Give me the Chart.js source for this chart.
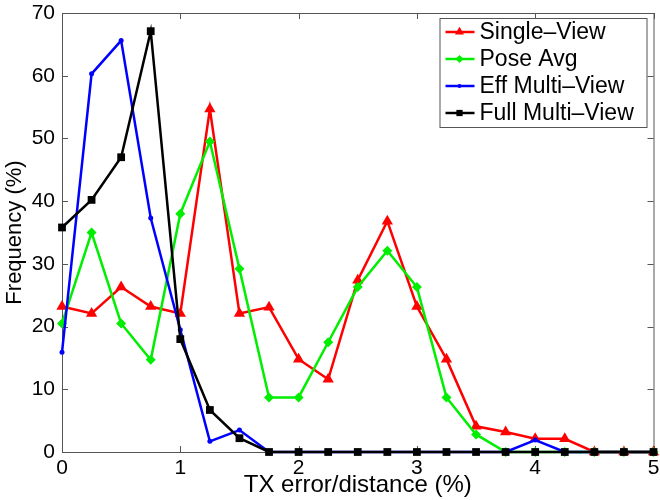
<!DOCTYPE html>
<html>
<head>
<meta charset="utf-8">
<script src="https://cdn.jsdelivr.net/npm/chart.js@4/dist/chart.umd.min.js"></script>
<style>
    html, body { margin: 0; padding: 0; background: #fff; }
    #wrap { width: 660px; height: 500px; }
</style>
</head>
<body>
<div id="wrap"><canvas id="errChart" width="660" height="500"></canvas></div>
<script>
// Data
const xValues = [0, 0.25, 0.5, 0.75, 1, 1.25, 1.5, 1.75, 2, 2.25, 2.5, 2.75, 3, 3.25, 3.5, 3.75, 4, 4.25, 4.5, 4.75, 5];
const singleView = [23.2, 22.1, 26.3, 23.2, 22.1, 54.7, 22.1, 23.1, 14.8, 11.6, 27.4, 36.8, 23.2, 14.8, 4.1, 3.2, 2.1, 2.1, 0, 0, 0];
const poseAvg = [20.5, 35.0, 20.5, 14.7, 38.0, 49.5, 29.2, 8.7, 8.7, 17.5, 26.3, 32.1, 26.3, 8.7, 2.8, 0, 0, 0, 0, 0, 0];
const effMultiView = [15.9, 60.3, 65.6, 37.3, 19.5, 1.7, 3.5, 0, 0, 0, 0, 0, 0, 0, 0, 0, 1.9, 0, 0, 0, 0];
const fullMultiView = [35.8, 40.2, 47.0, 67.1, 18.0, 6.7, 2.2, 0, 0, 0, 0, 0, 0, 0, 0, 0, 0, 0, 0, 0, 0];
const seriesLabels = ['Single\u2013View', 'Pose Avg', 'Eff Multi\u2013View', 'Full Multi\u2013View'];
const xTicks = [0, 1, 2, 3, 4, 5];
const yTicks = [0, 10, 20, 30, 40, 50, 60, 70];

const FONT = '"Liberation Sans", Arial, Helvetica, sans-serif';
const FRAME = '#555555';

function toPoints(values) {
    return values.map((v, i) => ({ x: xValues[i], y: v }));
}

// MATLAB-like frame with inward ticks on all four sides
const framePlugin = {
    id: 'frame',
    beforeDatasetsDraw(chart) {
        const { ctx, chartArea: a, scales } = chart;
        ctx.save();
        ctx.strokeStyle = FRAME;
        ctx.lineWidth = 1;
        ctx.strokeRect(a.left + 0.5, a.top + 0.5, a.right - a.left, a.bottom - a.top);
        const len = 6;
        ctx.beginPath();
        xTicks.forEach(t => {
            const px = Math.round(scales.x.getPixelForValue(t)) + 0.5;
            ctx.moveTo(px, a.bottom); ctx.lineTo(px, a.bottom - len);
            ctx.moveTo(px, a.top); ctx.lineTo(px, a.top + len);
        });
        yTicks.forEach(t => {
            const py = Math.round(scales.y.getPixelForValue(t)) + 0.5;
            ctx.moveTo(a.left, py); ctx.lineTo(a.left + len, py);
            ctx.moveTo(a.right, py); ctx.lineTo(a.right - len, py);
        });
        ctx.stroke();
        ctx.restore();
    }
};

function drawMarker(ctx, style, x, y, r, color) {
    ctx.fillStyle = color;
    ctx.beginPath();
    if (style === 'triangle') {
        ctx.moveTo(x, y - r);
        ctx.lineTo(x + r * 0.866, y + r * 0.5);
        ctx.lineTo(x - r * 0.866, y + r * 0.5);
    } else if (style === 'rectRot') {
        ctx.moveTo(x, y - r); ctx.lineTo(x + r, y); ctx.lineTo(x, y + r); ctx.lineTo(x - r, y);
    } else if (style === 'rect') {
        const s = r / Math.SQRT2;
        ctx.rect(x - s, y - s, 2 * s, 2 * s);
    } else {
        ctx.arc(x, y, r, 0, Math.PI * 2);
    }
    ctx.closePath();
    ctx.fill();
}

// Boxed legend inside the top right corner of the plot
const boxLegendPlugin = {
    id: 'boxLegend',
    afterDraw(chart) {
        const { ctx, chartArea: a } = chart;
        const w = 207, h = 109;
        const x0 = a.right - 7 - w, y0 = a.top + 5;
        ctx.save();
        ctx.fillStyle = '#fff';
        ctx.fillRect(x0, y0, w, h);
        ctx.strokeStyle = FRAME;
        ctx.lineWidth = 1;
        ctx.strokeRect(x0 + 0.5, y0 + 0.5, w, h);
        ctx.font = '23px ' + FONT;
        ctx.textBaseline = 'middle';
        chart.data.datasets.forEach((ds, i) => {
            const y = y0 + 14 + i * 27;
            ctx.strokeStyle = ds.borderColor;
            ctx.lineWidth = 2.5;
            ctx.beginPath();
            ctx.moveTo(x0 + 6, y); ctx.lineTo(x0 + 35, y);
            ctx.stroke();
            drawMarker(ctx, ds.pointStyle, x0 + 20, y, ds.pointRadius * 0.8, ds.borderColor);
            ctx.fillStyle = '#000';
            ctx.fillText(ds.label, x0 + 40, y + 1);
        });
        ctx.restore();
    }
};

const ctx = document.getElementById('errChart');

new Chart(ctx, {
    type: 'line',
    data: {
        datasets: [
            {
                label: seriesLabels[0],
                data: toPoints(singleView),
                borderColor: '#ff0000',
                backgroundColor: '#ff0000',
                pointStyle: 'triangle',
                pointRadius: 6.5,
                order: 4
            },
            {
                label: seriesLabels[1],
                data: toPoints(poseAvg),
                borderColor: '#00ee00',
                backgroundColor: '#00ee00',
                pointStyle: 'rectRot',
                pointRadius: 5,
                order: 3
            },
            {
                label: seriesLabels[2],
                data: toPoints(effMultiView),
                borderColor: '#0000ff',
                backgroundColor: '#0000ff',
                pointStyle: 'circle',
                pointRadius: 2.5,
                order: 2
            },
            {
                label: seriesLabels[3],
                data: toPoints(fullMultiView),
                borderColor: '#000000',
                backgroundColor: '#000000',
                pointStyle: 'rect',
                pointRadius: 5.5,
                order: 1
            }
        ]
    },
    options: {
        responsive: false,
        animation: false,
        clip: false,
        layout: {
            padding: { top: 13, right: 3, left: 0, bottom: 0 }
        },
        elements: {
            line: { borderWidth: 2.5, tension: 0 },
            point: { borderWidth: 0, hoverRadius: 6 }
        },
        plugins: {
            legend: { display: false },
            tooltip: { enabled: false }
        },
        scales: {
            x: {
                type: 'linear',
                min: 0,
                max: 5,
                afterBuildTicks: scale => { scale.ticks = xTicks.map(v => ({ value: v })); },
                afterFit: scale => {
                    scale.height = 48;
                    scale.paddingLeft = 0;
                    scale.paddingRight = 0;
                },
                grid: { display: false, drawTicks: false },
                border: { display: false },
                ticks: {
                    color: '#000',
                    padding: 4,
                    maxRotation: 0,
                    font: { family: FONT, size: 21, lineHeight: 1.2 }
                },
                title: {
                    display: true,
                    text: 'TX error/distance (%)',
                    color: '#000',
                    padding: { top: 0, bottom: 0 },
                    font: { family: FONT, size: 24, lineHeight: 1.2 }
                }
            },
            y: {
                min: 0,
                max: 70,
                afterBuildTicks: scale => { scale.ticks = yTicks.map(v => ({ value: v })); },
                afterFit: scale => {
                    scale.width = 62;
                    scale.paddingTop = 0;
                    scale.paddingBottom = 0;
                },
                grid: { display: false, drawTicks: false },
                border: { display: false },
                ticks: {
                    color: '#000',
                    padding: 7,
                    font: { family: FONT, size: 21, lineHeight: 1.2 }
                },
                title: {
                    display: true,
                    text: 'Frequency (%)',
                    color: '#000',
                    padding: { top: 2, bottom: 0 },
                    font: { family: FONT, size: 22, lineHeight: 1.2 }
                }
            }
        }
    },
    plugins: [framePlugin, boxLegendPlugin]
});
</script>
</body>
</html>
